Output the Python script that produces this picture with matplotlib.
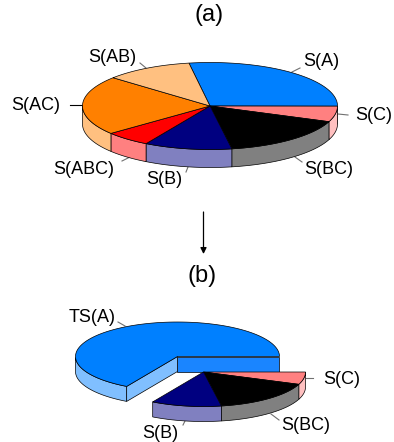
import numpy as np
import matplotlib
matplotlib.use('Agg')
import matplotlib.pyplot as plt

plt.rcParams['font.family'] = ['Liberation Sans', 'DejaVu Sans']

# slice shares in percent, clockwise
names_a = ['S(A)', 'S(C)', 'S(BC)', 'S(B)', 'S(ABC)', 'S(AC)', 'S(AB)']
values_a = [27.7, 5.8, 16.4, 11.1, 5.8, 22.1, 11.1]
names_b = ['S(C)', 'S(BC)', 'S(B)', 'TS(A)']
values_b = [5.8, 16.4, 11.1, 66.7]

top_col = {'S(A)': '#0080ff', 'S(C)': '#ff8080', 'S(BC)': '#000000', 'S(B)': '#000080',
           'S(ABC)': '#ff0000', 'S(AC)': '#ff8000', 'S(AB)': '#ffc080', 'TS(A)': '#0080ff'}
side_col = {'S(A)': '#80bfff', 'S(C)': '#ffc0c0', 'S(BC)': '#808080', 'S(B)': '#8080c0',
            'S(ABC)': '#ff8080', 'S(AC)': '#ffc080', 'S(AB)': '#ffe0c0', 'TS(A)': '#80bfff'}

fig = plt.figure(figsize=(3.94, 4.42), dpi=100)
ax = fig.add_axes([0, 0, 1, 1])
ax.set_xlim(0, 394)
ax.set_ylim(442, 0)
ax.axis('off')
LW = 0.5


def ell(cx, cy, rx, ry, deg):
    t = np.radians(deg)
    return cx + rx * np.cos(t), cy - ry * np.sin(t)


def draw_slice(name, a0, a1, cx, cy, rx, ry, depth, cuts=False):
    # a0 > a1, going clockwise
    t = np.linspace(a0, a1, 100)
    x, y = ell(cx, cy, rx, ry, t)
    # outer wall, only the front half is visible
    front = np.sin(np.radians(t)) <= 0
    if front.any():
        fx, fy = x[front], y[front]
        ax.fill(np.r_[fx, fx[::-1]], np.r_[fy, fy[::-1] + depth],
                fc=side_col[name], ec='k', lw=LW, zorder=2)
    if cuts:
        ex, ey = ell(cx, cy, rx, ry, a1)
        ax.fill([cx, ex, ex, cx], [cy, ey, ey + depth, cy + depth],
                fc='#1a85ff', ec='k', lw=LW, zorder=1)
        ex, ey = ell(cx, cy, rx, ry, a0)
        ax.fill([cx, ex, ex, cx], [cy, ey, ey + depth, cy + depth],
                fc=side_col[name], ec='k', lw=LW, zorder=2)
    ax.fill(np.r_[cx, x], np.r_[cy, y], fc=top_col[name], ec='k', lw=LW, zorder=3)


# pie (a)
ang = 99.5
for name, v in zip(names_a, values_a):
    draw_slice(name, ang, ang - v * 3.6, 210, 106, 127.5, 43.5, 18)
    ang -= v * 3.6

# pie (b), three slices pulled out from the rest
ang = 0
for name, v in zip(names_b[:3], values_b[:3]):
    draw_slice(name, ang, ang - v * 3.6, 203.5, 372, 102, 34.5, 15)
    ang -= v * 3.6
draw_slice('TS(A)', ang, ang - values_b[3] * 3.6, 177.5, 356.5, 102, 34.5, 15, cuts=True)

# labels and leader lines
labels = [('S(A)', 321, 62, (292, 72), (300, 68)),
          ('S(AB)', 112, 57, (146, 68), (140, 63)),
          ('S(AC)', 36, 105, (70, 105), (82, 105)),
          ('S(C)', 374, 115, (338, 114), (348, 115)),
          ('S(BC)', 329, 169, (295, 157), (302, 162)),
          ('S(ABC)', 84, 169, (130, 157), (122, 161)),
          ('S(B)', 164, 180, (188, 167), (186, 172)),
          ('TS(A)', 92, 317, (118, 322), (125, 326)),
          ('S(C)', 342, 380, (313, 378), (306, 378)),
          ('S(BC)', 306, 425, (271, 414), (279, 420)),
          ('S(B)', 160, 433, (185, 421), (183, 425))]
for txt, lx, ly, p0, p1 in labels:
    ax.text(lx, ly, txt, ha='center', va='center', fontsize=13, color='k')
    col = 'k' if txt == 'S(AC)' else '#707070'
    ax.plot([p0[0], p1[0]], [p0[1], p1[1]], color=col, lw=0.8, zorder=1)

ax.text(209, 15, '(a)', ha='center', va='center', fontsize=17)
ax.text(202, 276, '(b)', ha='center', va='center', fontsize=17)

ax.annotate('', xy=(203.5, 254), xytext=(203.5, 212),
            arrowprops=dict(arrowstyle='-|>', color='k', lw=0.9, mutation_scale=9,
                            shrinkA=0, shrinkB=0))

fig.savefig('out.png', dpi=100)
